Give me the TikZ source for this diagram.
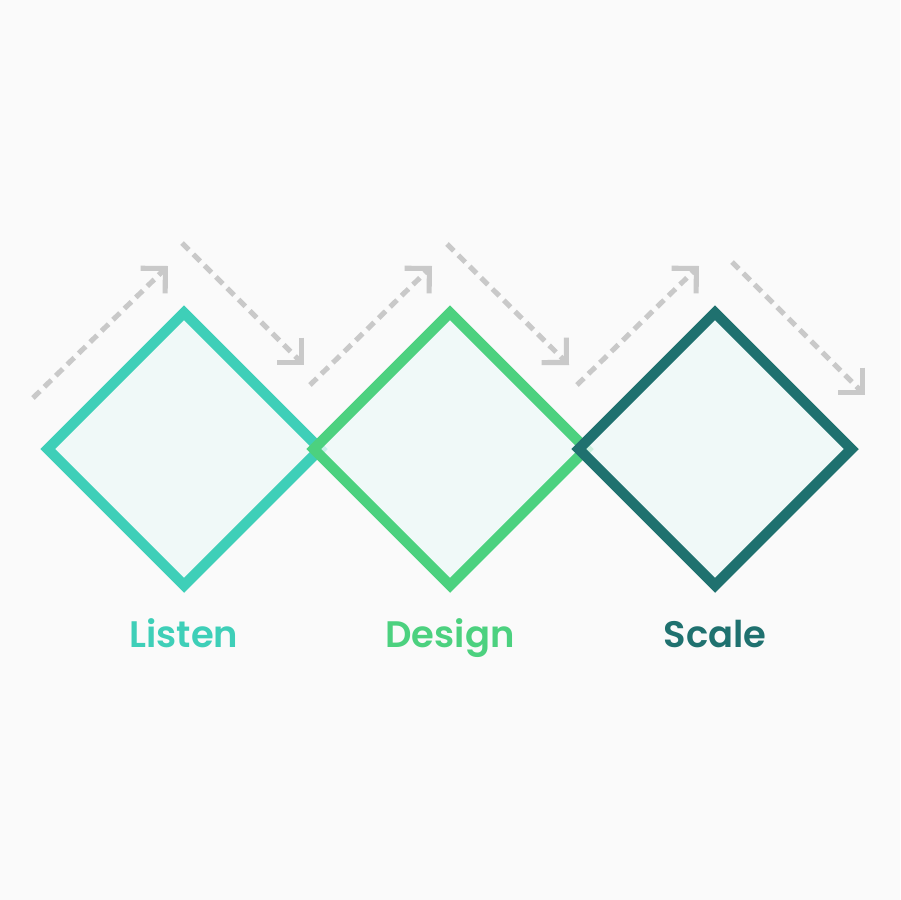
\documentclass[tikz,border=0pt]{standalone}
\usepackage{fontspec}
\newfontfamily\labelfont{Poppins SemiBold}
\usetikzlibrary{arrows.meta,shapes.geometric}
\definecolor{listencol}{HTML}{3ECFB8}
\definecolor{designcol}{HTML}{4CD17F}
\definecolor{scalecol}{HTML}{1F716F}
\definecolor{boxfill}{HTML}{EEF9F8}
\definecolor{dashgray}{HTML}{C9C9C9}
\definecolor{marble}{HTML}{FAFAFA}

\begin{document}
\begin{tikzpicture}[x=0.02cm,y=-0.02cm]
\tikzset{phase/.style={diamond,draw=#1,line width=6pt,fill=boxfill,fill opacity=0.8,minimum width=5.54cm,minimum height=5.54cm,inner sep=0pt,aspect=1}}
\tikzset{flow/.style={dashgray,line width=2.9pt,dash pattern=on 5.5pt off 3.6pt,-{Straight Barb[length=10pt,width=20pt,line join=miter]}}}
\tikzset{phaselabel/.style={font=\labelfont\fontsize{21}{25}\selectfont,anchor=base}}

\useasboundingbox (0,0) rectangle (900,900);
\fill[marble] (0,0) rectangle (900,900);

% dashed flow
\coordinate (up1a) at (33,398);  \coordinate (up1b) at (168,266);
\coordinate (dn1a) at (182,243); \coordinate (dn1b) at (304,365);
\coordinate (up2a) at (310,385); \coordinate (up2b) at (432,266);
\coordinate (dn2a) at (447,244); \coordinate (dn2b) at (569,365);
\coordinate (up3a) at (577,385); \coordinate (up3b) at (699,266);
\coordinate (dn3a) at (732,262); \coordinate (dn3b) at (865,395);
\draw[flow] (up1a) -- (up1b);
\draw[flow] (dn1a) -- (dn1b);
\draw[flow] (up2a) -- (up2b);
\draw[flow] (dn2a) -- (dn2b);
\draw[flow] (up3a) -- (up3b);
\draw[flow] (dn3a) -- (dn3b);

% phases
\node[phase=listencol] (listen) at (184,449) {};
\node[phase=designcol] (design) at (450,449) {};
\node[phase=scalecol] (scale) at (715,449) {};

\node[phaselabel,text=listencol] (listentxt) at (184,647) {Listen};
\node[phaselabel,text=designcol] (designtxt) at (450,647) {Design};
\node[phaselabel,text=scalecol] (scaletxt) at (715,647) {Scale};

\end{tikzpicture}
\end{document}
